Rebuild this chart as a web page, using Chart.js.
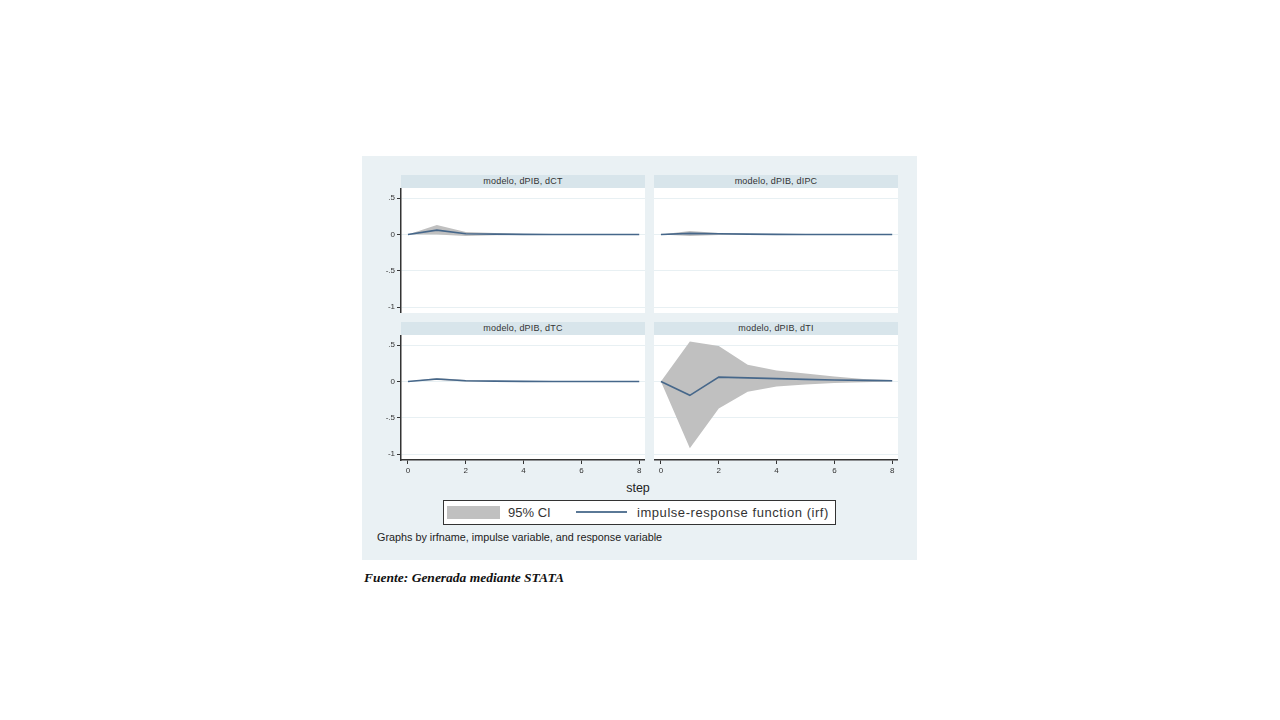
<!DOCTYPE html>
<html>
<head>
<meta charset="utf-8">
<script src="https://cdn.jsdelivr.net/npm/chart.js@4"></script>
<style>
  body { margin:0; width:1280px; height:720px; background:#fff; position:relative; font-family:"Liberation Sans", Arial, sans-serif; }
  #frame { position:absolute; left:362px; top:156px; width:555px; height:404px; background:#eaf1f4; }
  .strip { position:absolute; height:13px; background:#d8e5eb; color:#333; font-size:9px; letter-spacing:0.2px; line-height:13px; text-align:center; }
  canvas { position:absolute; }
  #step { position:absolute; left:600px; top:481px; width:76px; text-align:center; font-size:12.5px; color:#222; }
  #legend { position:absolute; left:443px; top:500px; width:391px; height:23px; border:1.5px solid #333; background:#fff; }
  #legend .sw { position:absolute; left:3px; top:4.5px; width:53px; height:13px; background:#c0c0c0; }
  #legend .t1 { position:absolute; left:64px; top:3.5px; font-size:13px; color:#333; }
  #legend .ln { position:absolute; left:132px; top:10px; width:51px; height:2px; background:#5a7896; }
  #legend .t2 { position:absolute; left:193px; top:3.5px; font-size:13px; letter-spacing:0.55px; color:#333; }
  #note { position:absolute; left:377px; top:531px; font-size:10.8px; color:#222; }
  #src { position:absolute; left:364px; top:570px; font-family:"Liberation Serif", "Times New Roman", serif; font-style:italic; font-weight:bold; font-size:13.5px; color:#111; }
</style>
</head>
<body>
<div id="frame"></div>
<div class="strip" style="left:401px;top:175px;width:244px;">modelo, dPIB, dCT</div>
<div class="strip" style="left:654px;top:175px;width:244px;">modelo, dPIB, dIPC</div>
<div class="strip" style="left:401px;top:322px;width:244px;">modelo, dPIB, dTC</div>
<div class="strip" style="left:654px;top:322px;width:244px;">modelo, dPIB, dTI</div>
<canvas id="p1" width="275" height="125" style="left:370px;top:188px;"></canvas>
<canvas id="p2" width="244" height="125" style="left:654px;top:188px;"></canvas>
<canvas id="p3" width="275" height="145" style="left:370px;top:335px;"></canvas>
<canvas id="p4" width="244" height="145" style="left:654px;top:335px;"></canvas>
<div id="step">step</div>
<div id="legend"><div class="sw"></div><div class="t1">95% CI</div><div class="ln"></div><div class="t2">impulse-response function (irf)</div></div>
<div id="note">Graphs by irfname, impulse variable, and response variable</div>
<div id="src">Fuente: Generada mediante STATA</div>
<script>
// steps and axis ticks
const steps = [0, 1, 2, 3, 4, 5, 6, 7, 8];
const yTicks = [-1, -0.5, 0, 0.5];
const yTickLabels = ['-1', '-.5', '0', '.5'];
const xTicks = [0, 2, 4, 6, 8];

// modelo, dPIB, dCT
const irfCT   = [0, 0.06, 0.01, 0.005, 0.002, 0, 0, 0, 0];
const loCT    = [0, 0.00, -0.02, -0.01, -0.004, 0, 0, 0, 0];
const hiCT    = [0, 0.13, 0.035, 0.02, 0.008, 0.003, 0, 0, 0];
// modelo, dPIB, dIPC
const irfIPC  = [0, 0.015, 0.01, 0.005, 0.002, 0, 0, 0, 0];
const loIPC   = [0, -0.02, -0.005, -0.002, 0, 0, 0, 0, 0];
const hiIPC   = [0, 0.05, 0.02, 0.01, 0.004, 0, 0, 0, 0];
// modelo, dPIB, dTC
const irfTC   = [0, 0.035, 0.01, 0.005, 0.002, 0, 0, 0, 0];
const loTC    = [0, 0.02, 0.0, -0.002, 0, 0, 0, 0, 0];
const hiTC    = [0, 0.05, 0.02, 0.01, 0.004, 0, 0, 0, 0];
// modelo, dPIB, dTI
const irfTI   = [0, -0.19, 0.06, 0.05, 0.04, 0.03, 0.02, 0.015, 0.01];
const loTI    = [0, -0.92, -0.37, -0.14, -0.07, -0.04, -0.02, -0.01, 0];
const hiTI    = [0, 0.55, 0.49, 0.23, 0.15, 0.11, 0.07, 0.035, 0.02];

const pts = arr => arr.map((v, i) => ({x: steps[i], y: v}));
const tickFont = {family: 'Liberation Sans', size: 8};

// white plot region like Stata's plotregion
const plotBg = {
  id: 'plotBg',
  beforeDraw(chart) {
    const a = chart.chartArea, ctx = chart.ctx;
    ctx.save();
    ctx.fillStyle = '#ffffff';
    ctx.fillRect(a.left, a.top, a.right - a.left, a.bottom - a.top);
    ctx.restore();
  }
};

function makePanel(id, irf, lo, hi, leftAxis, bottomAxis) {
  new Chart(document.getElementById(id), {
    type: 'line',
    data: {
      datasets: [
        {data: pts(irf), borderColor: '#46678a', borderWidth: 1.6, pointRadius: 0, fill: false, order: 0, tension: 0},
        {data: pts(hi), borderWidth: 0, borderColor: 'rgba(0,0,0,0)', pointRadius: 0, fill: '+1', backgroundColor: '#c0c0c0', order: 1, tension: 0},
        {data: pts(lo), borderWidth: 0, borderColor: 'rgba(0,0,0,0)', pointRadius: 0, fill: false, order: 2, tension: 0}
      ]
    },
    options: {
      responsive: false,
      devicePixelRatio: 1,
      animation: false,
      layout: {padding: 0},
      plugins: {legend: {display: false}, tooltip: {enabled: false}},
      scales: {
        x: {
          type: 'linear', min: -0.24, max: 8.2,
          display: bottomAxis,
          afterBuildTicks: s => { s.ticks = xTicks.map(v => ({value: v})); },
          afterFit: s => {
            s.height = bottomAxis ? 20 : 0;
            s.paddingLeft = 0; s.paddingRight = 0;
          },
          ticks: {font: tickFont, color: '#333', padding: 2, maxRotation: 0},
          grid: {drawOnChartArea: false, drawTicks: true, tickLength: 4, color: '#333', tickColor: '#333'},
          border: {display: true, color: '#333', width: 1.5}
        },
        y: {
          min: -1.08, max: 0.64,
          afterBuildTicks: s => { s.ticks = yTicks.map(v => ({value: v})); },
          afterFit: s => {
            s.width = leftAxis ? 31 : 0;
            s.paddingTop = 0; s.paddingBottom = 0;
          },
          ticks: {display: leftAxis, font: tickFont, color: '#333', padding: 2,
                  callback: (v, i) => yTickLabels[i]},
          grid: {color: '#e8f0f3', lineWidth: 1, drawTicks: leftAxis, tickLength: 4, tickColor: '#333'},
          border: {display: leftAxis, color: '#333', width: 1.5}
        }
      }
    },
    plugins: [plotBg]
  });
}

makePanel('p1', irfCT, loCT, hiCT, true, false);
makePanel('p2', irfIPC, loIPC, hiIPC, false, false);
makePanel('p3', irfTC, loTC, hiTC, true, true);
makePanel('p4', irfTI, loTI, hiTI, false, true);
</script>
</body>
</html>
